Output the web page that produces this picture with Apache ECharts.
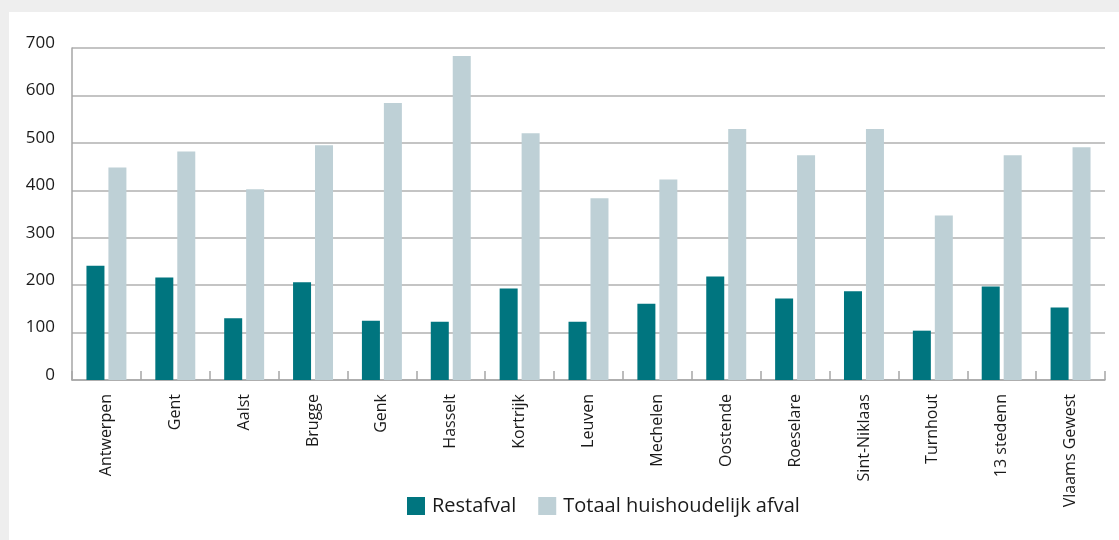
<!DOCTYPE html>
<html>
<head>
<meta charset="utf-8">
<style>
  html, body { margin: 0; padding: 0; width: 1119px; height: 540px; background: #eeeeee; overflow: hidden; }
  #card { position: absolute; left: 9px; top: 12px; width: 1130px; height: 560px; background: #ffffff; border-bottom-left-radius: 18px; }
  #chart { position: absolute; left: 0; top: 0; width: 1119px; height: 540px; }
</style>
<script src="https://cdn.jsdelivr.net/npm/echarts@6/dist/echarts.min.js"></script>
</head>
<body>
<div id="card"></div>
<div id="chart"></div>
<script>
const categories = ['Antwerpen', 'Gent', 'Aalst', 'Brugge', 'Genk', 'Hasselt', 'Kortrijk', 'Leuven', 'Mechelen', 'Oostende', 'Roeselare', 'Sint-Niklaas', 'Turnhout', '13 stedenn', 'Vlaams Gewest'];
const restafval = [241, 216, 130, 206, 125, 123, 193, 123, 161, 218, 172, 187, 104, 197, 153];
const totaal = [448, 482, 402, 495, 584, 683, 520, 383, 423, 529, 474, 529, 347, 474, 491];
const seriesNames = ['Restafval', 'Totaal huishoudelijk afval'];
const yTicks = [0, 100, 200, 300, 400, 500, 600, 700];

const chart = echarts.init(document.getElementById('chart'), null, { renderer: 'canvas' });
const font = '"Open Sans", "Noto Sans", sans-serif';
chart.setOption({
  backgroundColor: 'transparent',
  animation: false,
  textStyle: { fontFamily: font },
  grid: { left: 72, right: 14, top: 48, bottom: 160, containLabel: false },
  legend: {
    bottom: 19,
    left: 402,
    itemWidth: 18,
    itemHeight: 18,
    itemGap: 22,
    icon: 'rect',
    textStyle: { fontSize: 20, color: '#1a1a1a', fontFamily: font, padding: [0, 0, 0, 2] },
    data: seriesNames
  },
  xAxis: {
    type: 'category',
    data: categories,
    axisLine: { lineStyle: { color: '#a6a6a6', width: 1.5 } },
    axisTick: { show: true, inside: true, length: 9, interval: 0, alignWithLabel: false, lineStyle: { color: '#a6a6a6', width: 1.5 } },
    axisLabel: { rotate: 90, interval: 0, fontSize: 16, color: '#1a1a1a', margin: 14, fontFamily: font }
  },
  yAxis: {
    type: 'value',
    min: yTicks[0],
    max: yTicks[yTicks.length - 1],
    interval: 100,
    axisLine: { show: true, lineStyle: { color: '#a6a6a6', width: 1.5 } },
    axisTick: { show: false },
    splitLine: { lineStyle: { color: '#b0b0b0', width: 1.5 } },
    axisLabel: { fontSize: 17, color: '#1a1a1a', margin: 17, verticalAlign: 'bottom', lineHeight: 10, fontFamily: font }
  },
  series: [
    { name: seriesNames[0], type: 'bar', data: restafval, barWidth: 18, barGap: '22%', itemStyle: { color: '#00757f' } },
    { name: seriesNames[1], type: 'bar', data: totaal, barWidth: 18, itemStyle: { color: '#bed0d6' } }
  ]
});
</script>
</body>
</html>
